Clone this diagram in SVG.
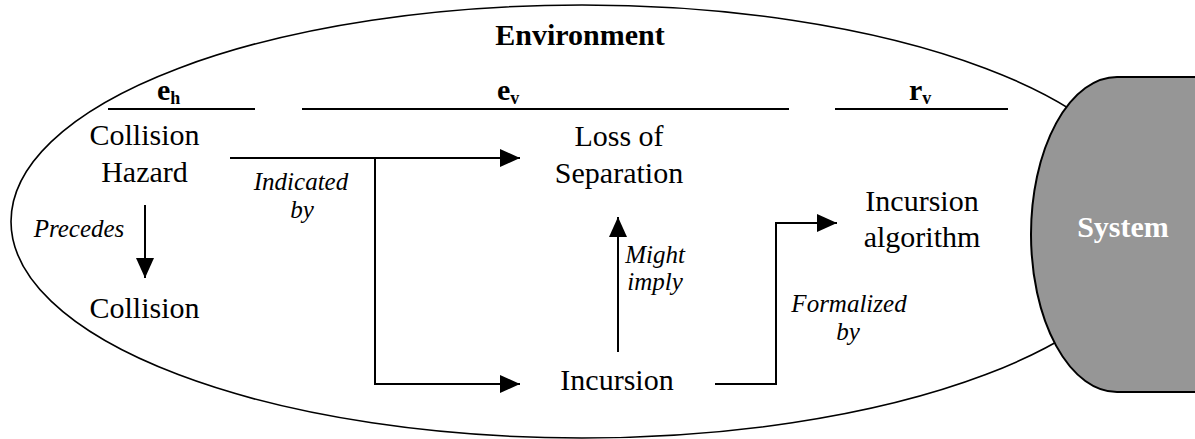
<svg xmlns="http://www.w3.org/2000/svg" width="1195" height="439" viewBox="0 0 1195 439">
<style>
text{font-family:"Times New Roman",Times,"Liberation Serif","Nimbus Roman","Noto Serif","DejaVu Serif",serif;fill:#000}
.t{font-size:30px;text-anchor:middle}
.i{font-size:25px;font-style:italic;text-anchor:middle}
.b{font-size:30px;font-weight:bold}
.sub{font-size:18px}
.ln{stroke:#000;stroke-width:2;fill:none}
.c{stroke:#000;stroke-width:2;fill:none}
</style>
<defs>
<marker id="ah" markerUnits="userSpaceOnUse" markerWidth="22" markerHeight="20" refX="20" refY="9" orient="auto">
<path d="M0,0 L20,9 L0,18 Z" fill="#000"/>
</marker>
</defs>
<g id="environment">
<ellipse cx="582" cy="221.5" rx="571" ry="216.5" fill="#fff" stroke="#000" stroke-width="1.6"/>
<text class="b" x="580" y="45" text-anchor="middle">Environment</text>
</g>
<g id="system">
<path d="M1117,77 L1200,77 L1200,392 L1117,392 A86,157.5 0 0 1 1117,77 Z" fill="#969696" stroke="#000" stroke-width="2"/>
<text class="b" x="1123" y="237" text-anchor="middle" style="fill:#fff">System</text>
</g>
<g id="headers">
<text class="b" x="157" y="100">e<tspan class="sub" dy="4">h</tspan></text>
<line class="ln" x1="108" y1="109" x2="255" y2="109"/>
<text class="b" x="497" y="100">e<tspan class="sub" dy="4">v</tspan></text>
<line class="ln" x1="302" y1="109" x2="789" y2="109"/>
<text class="b" x="909" y="100">r<tspan class="sub" dy="4">v</tspan></text>
<line class="ln" x1="835" y1="109" x2="1008" y2="109"/>
</g>
<g id="collision-hazard"><text class="t" x="144.5" y="145">Collision</text><text class="t" x="144.5" y="182">Hazard</text></g>
<g id="collision"><text class="t" x="144.5" y="318">Collision</text></g>
<g id="loss-of-separation"><text class="t" x="619" y="146">Loss of</text><text class="t" x="619" y="183">Separation</text></g>
<g id="incursion"><text class="t" x="617" y="390">Incursion</text></g>
<g id="incursion-algorithm"><text class="t" x="922" y="211">Incursion</text><text class="t" x="922" y="247">algorithm</text></g>
<g id="connectors">
<path class="c" d="M230,158 L520,158" marker-end="url(#ah)"/>
<path class="c" d="M375,158 L375,384 L520,384" marker-end="url(#ah)"/>
<text class="i" x="301" y="190">Indicated</text>
<text class="i" x="302" y="218">by</text>
<path class="c" d="M145,205 L145,278" marker-end="url(#ah)"/>
<text class="i" x="79" y="237">Precedes</text>
<path class="c" d="M618,352 L618,217" marker-end="url(#ah)"/>
<text class="i" x="655" y="263">Might</text>
<text class="i" x="655" y="290">imply</text>
<path class="c" d="M715,384 L776,384 L776,223 L837,223" marker-end="url(#ah)"/>
<text class="i" x="849" y="312">Formalized</text>
<text class="i" x="848" y="340">by</text>
</g>
</svg>
